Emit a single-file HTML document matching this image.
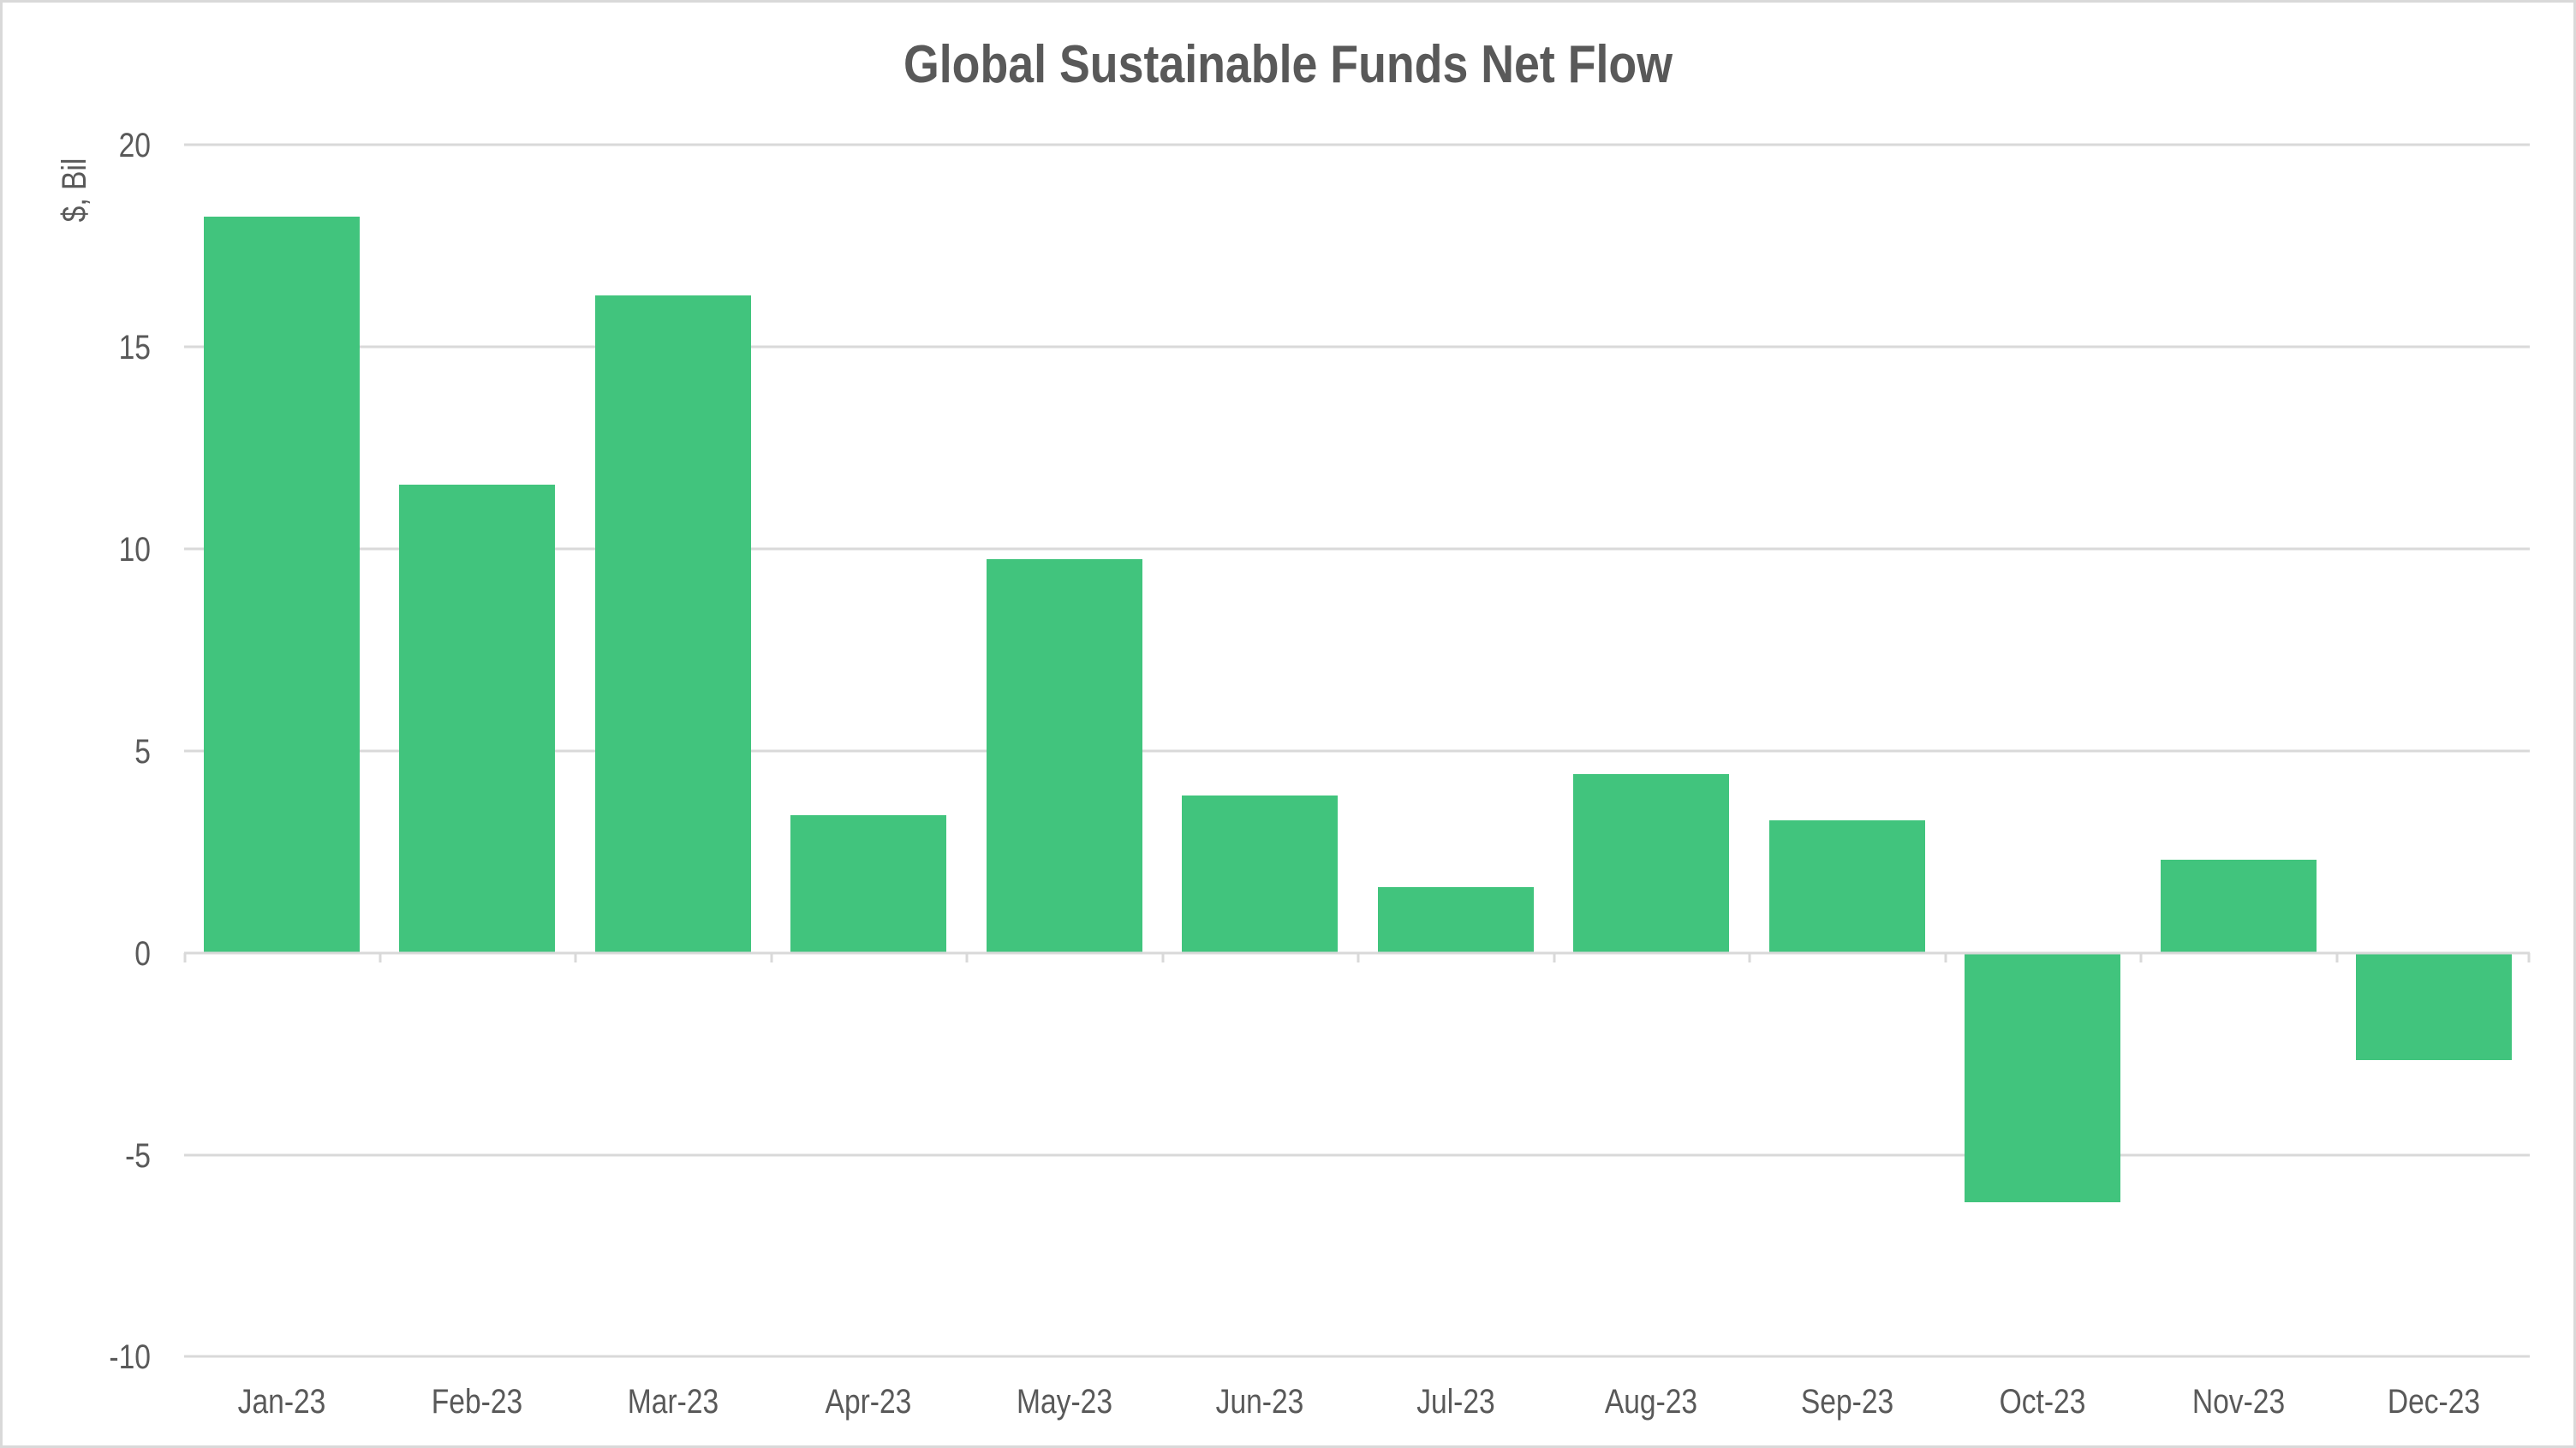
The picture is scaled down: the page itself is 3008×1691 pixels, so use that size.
<!DOCTYPE html>
<html><head><meta charset="utf-8"><style>
html,body{margin:0;padding:0;background:#fff;}
svg{display:block;}
text{font-family:"Liberation Sans Narrow","Liberation Sans",sans-serif;fill:#595959;}
</style></head><body>
<svg width="3008" height="1691" viewBox="0 0 3008 1691" xmlns="http://www.w3.org/2000/svg">
<rect x="1.5" y="1.5" width="3005" height="1688" fill="#fff" stroke="#d9d9d9" stroke-width="3"/>
<text x="1055" y="96" font-size="62" font-weight="bold" textLength="898" lengthAdjust="spacingAndGlyphs">Global Sustainable Funds Net Flow</text>
<g stroke="#d9d9d9" stroke-width="3">
<line x1="215" x2="2954" y1="169" y2="169"/>
<line x1="215" x2="2954" y1="405" y2="405"/>
<line x1="215" x2="2954" y1="641" y2="641"/>
<line x1="215" x2="2954" y1="877" y2="877"/>
<line x1="215" x2="2954" y1="1349" y2="1349"/>
<line x1="215" x2="2954" y1="1584" y2="1584"/>
</g>
<g font-size="40" text-anchor="end" transform="scale(0.84,1)">
<text x="209.5" y="183">20</text>
<text x="209.5" y="419">15</text>
<text x="209.5" y="655">10</text>
<text x="209.5" y="891">5</text>
<text x="209.5" y="1127">0</text>
<text x="209.5" y="1363">-5</text>
<text x="209.5" y="1598">-10</text>
</g>
<text font-size="40" text-anchor="middle" transform="translate(100,222) rotate(-90) scale(0.84,1)">$, Bil</text>
<g fill="#41c47d">
<rect x="238" y="253" width="182" height="860"/>
<rect x="466" y="566" width="182" height="547"/>
<rect x="695" y="345" width="182" height="768"/>
<rect x="923" y="952" width="182" height="161"/>
<rect x="1152" y="653" width="182" height="460"/>
<rect x="1380" y="929" width="182" height="184"/>
<rect x="1609" y="1036" width="182" height="77"/>
<rect x="1837" y="904" width="182" height="209"/>
<rect x="2066" y="958" width="182" height="155"/>
<rect x="2294" y="1113" width="182" height="291"/>
<rect x="2523" y="1004" width="182" height="109"/>
<rect x="2751" y="1113" width="182" height="125"/>
</g>
<g stroke="#d9d9d9" stroke-width="3">
<line x1="215" x2="2954" y1="1113" y2="1113"/>
<line x1="216" x2="216" y1="1113" y2="1124"/>
<line x1="444" x2="444" y1="1113" y2="1124"/>
<line x1="672" x2="672" y1="1113" y2="1124"/>
<line x1="901" x2="901" y1="1113" y2="1124"/>
<line x1="1129" x2="1129" y1="1113" y2="1124"/>
<line x1="1358" x2="1358" y1="1113" y2="1124"/>
<line x1="1586" x2="1586" y1="1113" y2="1124"/>
<line x1="1815" x2="1815" y1="1113" y2="1124"/>
<line x1="2043" x2="2043" y1="1113" y2="1124"/>
<line x1="2272" x2="2272" y1="1113" y2="1124"/>
<line x1="2500" x2="2500" y1="1113" y2="1124"/>
<line x1="2729" x2="2729" y1="1113" y2="1124"/>
<line x1="2953" x2="2953" y1="1113" y2="1124"/>
</g>
<g font-size="40" text-anchor="middle" transform="scale(0.84,1)">
<text x="391.7" y="1650">Jan-23</text>
<text x="663.1" y="1650">Feb-23</text>
<text x="935.7" y="1650">Mar-23</text>
<text x="1207.1" y="1650">Apr-23</text>
<text x="1479.8" y="1650">May-23</text>
<text x="1751.2" y="1650">Jun-23</text>
<text x="2023.8" y="1650">Jul-23</text>
<text x="2295.2" y="1650">Aug-23</text>
<text x="2567.9" y="1650">Sep-23</text>
<text x="2839.3" y="1650">Oct-23</text>
<text x="3111.9" y="1650">Nov-23</text>
<text x="3383.3" y="1650">Dec-23</text>
</g>
</svg>
</body></html>
